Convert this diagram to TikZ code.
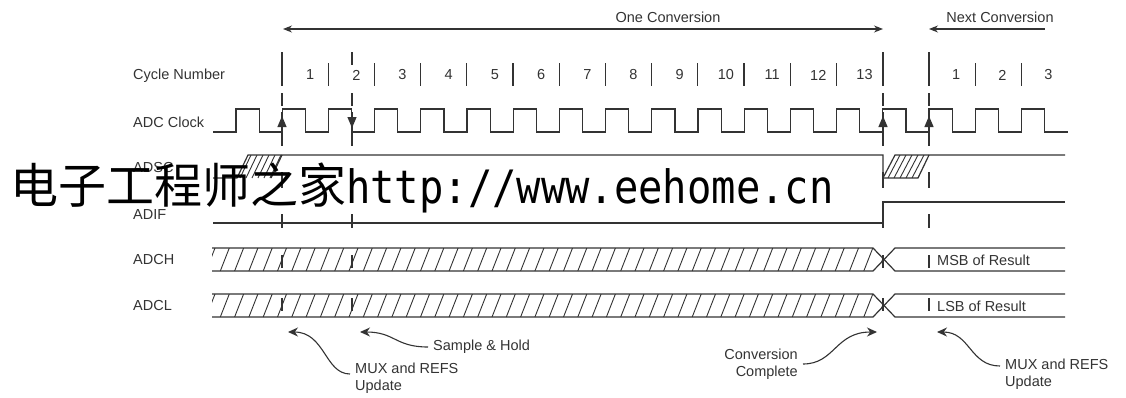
\documentclass[tikz,border=0pt]{standalone}
\usepackage{fontspec}
\setmainfont{Liberation Sans}
\newfontfamily\cjkfont{Noto Sans CJK SC}
\newfontfamily\urlfont{DejaVu Sans Mono}
\usetikzlibrary{arrows.meta,positioning}
\definecolor{ink}{HTML}{333333}

\begin{document}
\begin{tikzpicture}[x=1pt,y=-1pt,
  spantip/.tip={Stealth[length=9pt,width=7pt]},
  lbl/.style={font=\fontsize{14.5}{17.5}\selectfont,text=ink,inner sep=0pt},
  note/.style={lbl,inner xsep=5pt,align=left},
  sig/.style={ink,line width=1.2pt},
  hatch/.style={ink,line width=0.9pt},
  span/.style={spantip-spantip,ink,line width=1.1pt},
  tick/.style={-{Triangle[length=11pt,width=9pt]},ink,line width=1.2pt},
  curl/.style={-{Stealth[length=10pt,width=9pt]},ink,line width=1.1pt}]
\useasboundingbox (0,0) rectangle (1126,397);
% row labels
\node[lbl,anchor=west] (cyc) at (133,76) {Cycle Number};
\node[lbl,anchor=west] (clk) at (133,122) {ADC Clock};
\node[lbl,anchor=west] (adsc) at (133,168) {ADSC};
\node[lbl,anchor=west] (adif) at (133,215) {ADIF};
\node[lbl,anchor=west] (adch) at (133,260) {ADCH};
\node[lbl,anchor=west] (adcl) at (133,306) {ADCL};
% conversion spans
\node[lbl] (one) at (668,17) {One Conversion};
\node[lbl] (next) at (1000,17) {Next Conversion};
\draw[span] (283,29) -- (883,29);
\draw[span,spantip-] (929,29) -- (1045,29);
% guide lines
\foreach \x in {282,352,883,929}
  \foreach \a/\b in {52/65,93/106,112/146,172/188,214/228,255/268,298/311}
    \draw[sig] (\x,\a) -- (\x,\b);
% cycle numbers
\foreach \x in {282,883,929} \draw[sig] (\x,52) -- (\x,86);
\foreach \k in {1,...,12} \draw[sig] ({282+\k*46.2},63) -- ++(0,23);
\foreach \x in {975.2,1021.4} \draw[sig] (\x,63) -- ++(0,23);
\foreach \k in {1,...,13} \node[lbl] (n\k) at ({282+(\k-0.5)*46.2+5},75) {\k};
\foreach \k in {1,2,3} \node[lbl] (m\k) at ({929+(\k-0.5)*46.2+4},75) {\k};
% ADC clock
\draw[sig] (213,132) -- (236,132)
  \foreach \n in {0,...,17} { -- ++(0,-23) -- ++(23.1,0) -- ++(0,23) -- ++(23.1,0) };
\foreach \x in {282,883,929} \draw[tick] (\x,130) -- (\x,116);
\draw[tick] (352,114) -- (352,128);
% ADSC
\begin{scope}
  \clip (237,178) -- (248,155) -- (282,155) -- (271,178) -- cycle;
  \foreach \x in {228,234,...,290} \draw[hatch] (\x,178) -- ++(11,-23);
\end{scope}
\begin{scope}
  \clip (883,178) -- (895,155) -- (929,155) -- (918,178) -- cycle;
  \foreach \x in {876,882,...,935} \draw[hatch] (\x,178) -- ++(12,-23);
\end{scope}
\draw[sig] (213,178) -- (237,178) -- (248,155) -- (883,155) -- (883,178) -- (918,178) -- (929,155);
\draw[sig] (271,178) -- (282,155);
\draw[sig] (883,178) -- (895,155) -- (1065,155);
% ADIF
\draw[sig] (213,223) -- (883,223) -- (883,202) -- (1065,202);
% ADCH and ADCL
\foreach \yy in {248,294} {
  \begin{scope}
    \clip (212,\yy) -- (873,\yy) -- (884,\yy+11.5) -- (873,\yy+23) -- (212,\yy+23) -- cycle;
    \foreach \x in {206,220.3,...,885} \draw[hatch] (\x,\yy+23) -- ++(9,-23);
  \end{scope}
  \draw[sig] (212,\yy) -- (873,\yy) -- (895,\yy+23) -- (1065,\yy+23);
  \draw[sig] (212,\yy+23) -- (873,\yy+23) -- (895,\yy) -- (1065,\yy);
}
\node[lbl,anchor=west] (msb) at (937,260) {MSB of Result};
\node[lbl,anchor=west] (lsb) at (937,306) {LSB of Result};
% notes
\coordinate (t1) at (288,332);
\coordinate (t2) at (360,332);
\coordinate (t3) at (877,332);
\coordinate (t4) at (937,332);
\node[note,anchor=west] (mux1) at (350,378) {MUX and REFS\\Update};
\node[note,anchor=west] (smp) at (428,347) {Sample \& Hold};
\node[note,anchor=east,align=right] (conv) at (803,364) {Conversion\\Complete};
\node[note,anchor=west] (mux2) at (1000,374) {MUX and REFS\\Update};
\draw[curl] ([yshift=4pt]mux1.west) .. controls (325,374) and (325,332) .. (t1);
\draw[curl] (smp.west) .. controls (395,347) and (395,332) .. (t2);
\draw[curl] (conv.east) .. controls (835,364) and (835,332) .. (t3);
\draw[curl] ([yshift=8pt]mux2.west) .. controls (970,366) and (970,332) .. (t4);
% watermark
\node[anchor=base west,inner sep=0pt] (wm) at (10,203)
  {{\cjkfont\fontsize{48}{48}\selectfont 电子工程师之家}\scalebox{0.88}[1]{\urlfont\fontsize{46}{46}\selectfont http://www.eehome.cn}};
\end{tikzpicture}
\end{document}
